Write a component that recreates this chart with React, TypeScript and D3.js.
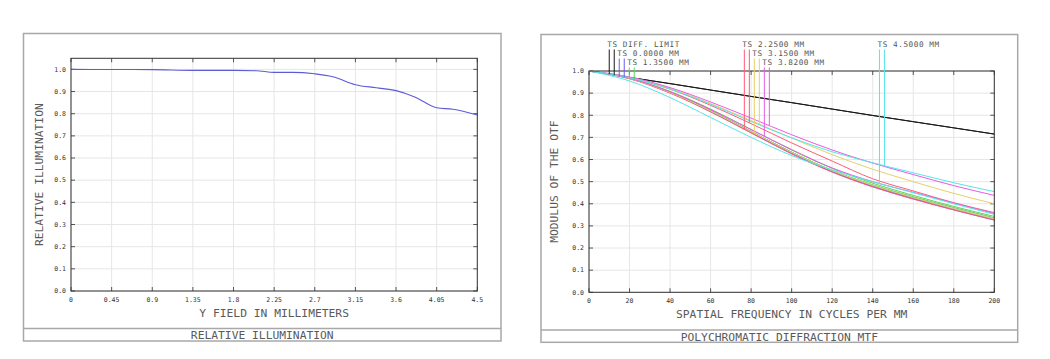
import React from 'react';
import * as d3 from 'd3';

// ---------- Relative illumination data ----------
const riFieldMm = [0, 0.45, 0.9, 1.35, 1.8, 2.05, 2.25, 2.45, 2.7, 2.9, 3.15, 3.38, 3.6, 3.8, 4.05, 4.23, 4.5];
const riValues = [1.0, 0.9995, 0.999, 0.9955, 0.9955, 0.994, 0.9865, 0.9865, 0.98, 0.967, 0.931, 0.917, 0.904, 0.877, 0.827, 0.82, 0.794];
const riXTicks = [0, 0.45, 0.9, 1.35, 1.8, 2.25, 2.7, 3.15, 3.6, 4.05, 4.5];
const riXTickLabels = ['0', '0.45', '0.9', '1.35', '1.8', '2.25', '2.7', '3.15', '3.6', '4.05', '4.5'];
const yTicks = [0, 0.1, 0.2, 0.3, 0.4, 0.5, 0.6, 0.7, 0.8, 0.9, 1.0];
const yTickLabels = ['0.0', '0.1', '0.2', '0.3', '0.4', '0.5', '0.6', '0.7', '0.8', '0.9', '1.0'];

// ---------- MTF data ----------
const mtfFreq = [0, 20, 40, 60, 80, 100, 120, 140, 160, 180, 200];
const mtfXTicks = [0, 20, 40, 60, 80, 100, 120, 140, 160, 180, 200];
const mtfXTickLabels = ['0', '20', '40', '60', '80', '100', '120', '140', '160', '180', '200'];
const diffLimit = [1, 0.971, 0.943, 0.914, 0.885, 0.857, 0.828, 0.799, 0.771, 0.743, 0.715];
const f0T = [1, 0.966, 0.902, 0.818, 0.722, 0.628, 0.545, 0.478, 0.423, 0.373, 0.327];
const f0S = [1, 0.967, 0.905, 0.822, 0.727, 0.633, 0.55, 0.482, 0.427, 0.377, 0.331];
const f1T = [1, 0.966, 0.903, 0.82, 0.726, 0.633, 0.551, 0.486, 0.432, 0.383, 0.337];
const f1S = [1, 0.968, 0.908, 0.828, 0.736, 0.643, 0.56, 0.493, 0.438, 0.388, 0.343];
const f2T = [1, 0.965, 0.9, 0.815, 0.72, 0.625, 0.543, 0.476, 0.421, 0.372, 0.326];
const f2S = [1, 0.971, 0.918, 0.845, 0.762, 0.675, 0.593, 0.513, 0.458, 0.405, 0.36];
const f3T = [1, 0.966, 0.903, 0.82, 0.726, 0.632, 0.55, 0.483, 0.428, 0.378, 0.332];
const f3S = [1, 0.972, 0.922, 0.853, 0.776, 0.697, 0.622, 0.556, 0.5, 0.447, 0.4];
const f4T = [1, 0.967, 0.906, 0.826, 0.735, 0.645, 0.562, 0.5, 0.452, 0.403, 0.356];
const f4S = [1, 0.973, 0.925, 0.86, 0.787, 0.712, 0.643, 0.584, 0.532, 0.482, 0.438];
const f5T = [1, 0.955, 0.88, 0.79, 0.7, 0.618, 0.553, 0.5, 0.45, 0.4, 0.352];
const f5S = [1, 0.97, 0.918, 0.85, 0.772, 0.698, 0.635, 0.585, 0.54, 0.495, 0.455];

const fieldLabels = ['TS DIFF. LIMIT', 'TS 0.0000 MM', 'TS 1.3500 MM', 'TS 2.2500 MM', 'TS 3.1500 MM', 'TS 3.8200 MM', 'TS 4.5000 MM'];
const fieldColors = ['#1a1a1a', '#6a5cf0', '#5cd65c', '#ff5a78', '#e8cf6a', '#e65ce6', '#55e6e6'];
const fieldT = [diffLimit, f0T, f1T, f2T, f3T, f4T, f5T];
const fieldS = [diffLimit, f0S, f1S, f2S, f3S, f4S, f5S];

const FONT = '"DejaVu Sans Mono", "Liberation Mono", monospace';

type Rect = { left: number; top: number; right: number; bottom: number };

function Frame({ box, sep, plot, xs, ys, xTicks, xLabels, yT, yL, xTitle, yTitle, yTitleX, title, children }: any) {
  const tl = 4;
  return (
    <g>
      <rect x={box.left} y={box.top} width={box.right - box.left} height={box.bottom - box.top} fill="none" stroke="#a8a8a8" strokeWidth={1.5} />
      <line x1={box.left} x2={box.right} y1={sep} y2={sep} stroke="#a8a8a8" strokeWidth={1.5} />
      {xTicks.map((t: number, i: number) => (
        <line key={'gx' + i} x1={xs(t)} x2={xs(t)} y1={plot.top} y2={plot.bottom} stroke="#e6e6e6" strokeWidth={1} />
      ))}
      {yT.map((t: number, i: number) => (
        <line key={'gy' + i} x1={plot.left} x2={plot.right} y1={ys(t)} y2={ys(t)} stroke="#e6e6e6" strokeWidth={1} />
      ))}
      {xTicks.map((t: number, i: number) => (
        <g key={'tx' + i}>
          <line x1={xs(t)} x2={xs(t)} y1={plot.bottom} y2={plot.bottom - tl} stroke="#555" />
          <line x1={xs(t)} x2={xs(t)} y1={plot.top} y2={plot.top + tl} stroke="#555" />
          <text x={xs(t)} y={plot.bottom + 11} fontSize={6.5} fontFamily={FONT} textAnchor="middle" fill="#333">{xLabels[i]}</text>
        </g>
      ))}
      {yT.map((t: number, i: number) => (
        <g key={'ty' + i}>
          <line x1={plot.left} x2={plot.left + tl} y1={ys(t)} y2={ys(t)} stroke="#555" />
          <line x1={plot.right} x2={plot.right - tl} y1={ys(t)} y2={ys(t)} stroke="#555" />
          <text x={plot.left - 5} y={ys(t) + 2.3} fontSize={6.5} fontFamily={FONT} textAnchor="end" fill="#333">{yL[i]}</text>
        </g>
      ))}
      {children}
      <rect x={plot.left} y={plot.top} width={plot.right - plot.left} height={plot.bottom - plot.top} fill="none" stroke="#333" strokeWidth={1} />
      <text x={(plot.left + plot.right) / 2} y={plot.bottom + 25.5} fontSize={11.3} fontFamily={FONT} textAnchor="middle" fill="#5a5a5a">{xTitle}</text>
      <text transform={`translate(${yTitleX},${(plot.top + plot.bottom) / 2}) rotate(-90)`} fontSize={11.3} fontFamily={FONT} textAnchor="middle" fill="#5a5a5a">{yTitle}</text>
      <text x={(box.left + box.right) / 2} y={sep + 10.5} fontSize={11.3} fontFamily={FONT} textAnchor="middle" fill="#5a5a5a">{title}</text>
    </g>
  );
}

export default function App() {
  // Left chart
  const lBox = { left: 23.5, top: 33.5, right: 501, bottom: 341 };
  const lSep = 328.5;
  const lPlot: Rect = { left: 71, top: 58.3, right: 477.3, bottom: 291 };
  const lx = d3.scaleLinear().domain([0, 4.5]).range([lPlot.left, lPlot.right]);
  const ly = d3.scaleLinear().domain([0, 1.05]).range([lPlot.bottom, lPlot.top]);
  const riLine = d3.line<number>().x((_, i) => lx(riFieldMm[i])).y((d) => ly(d)).curve(d3.curveMonotoneX);

  // Right chart
  const rBox = { left: 541, top: 34.5, right: 1017.7, bottom: 342.3 };
  const rSep = 330;
  const rPlot: Rect = { left: 589, top: 71, right: 994.3, bottom: 292.3 };
  const rx = d3.scaleLinear().domain([0, 200]).range([rPlot.left, rPlot.right]);
  const ry = d3.scaleLinear().domain([0, 1]).range([rPlot.bottom, rPlot.top]);
  const mtfLine = d3.line<number>().x((_, i) => rx(mtfFreq[i])).y((d) => ry(d)).curve(d3.curveMonotoneX);
  const interp = (arr: number[], f: number) => {
    const i = Math.min(mtfFreq.length - 2, Math.max(0, d3.bisectRight(mtfFreq, f) - 1));
    const t = (f - mtfFreq[i]) / (mtfFreq[i + 1] - mtfFreq[i]);
    return arr[i] + t * (arr[i + 1] - arr[i]);
  };

  const pw = rPlot.right - rPlot.left;
  const legend = fieldLabels.map((lab, i) => {
    const col = Math.floor(i / 3);
    const row = i % 3;
    const tx = rPlot.left + pw * 0.045 + (col * pw) / 3 + row * 10;
    const base = 46.5 + row * 9;
    return { lab, i, tx, base, top: base + 3 };
  });

  return (
    <svg width={1050} height={359} style={{ position: 'absolute', left: 0, top: 0, background: '#fff' }}>
      <rect x={0} y={0} width={1050} height={359} fill="#fff" />
      <Frame box={lBox} sep={lSep} plot={lPlot} xs={lx} ys={ly} xTicks={riXTicks} xLabels={riXTickLabels} yT={yTicks} yL={yTickLabels}
        xTitle="Y FIELD IN MILLIMETERS" yTitle="RELATIVE ILLUMINATION" yTitleX={lBox.left + 19.5} title="RELATIVE ILLUMINATION">
        <path d={riLine(riValues) || ''} fill="none" stroke="#5c5cd6" strokeWidth={1.1} />
      </Frame>
      <Frame box={rBox} sep={rSep} plot={rPlot} xs={rx} ys={ry} xTicks={mtfXTicks} xLabels={mtfXTickLabels} yT={yTicks} yL={yTickLabels}
        xTitle="SPATIAL FREQUENCY IN CYCLES PER MM" yTitle="MODULUS OF THE OTF" yTitleX={rBox.left + 17} title="POLYCHROMATIC DIFFRACTION MTF">
        {fieldLabels.map((_, i) => (
          <g key={'c' + i}>
            <path d={mtfLine(fieldT[i]) || ''} fill="none" stroke={fieldColors[i]} strokeWidth={1} />
            <path d={mtfLine(fieldS[i]) || ''} fill="none" stroke={fieldColors[i]} strokeWidth={1} />
          </g>
        ))}
      </Frame>
      {legend.map((g) => {
        const x1 = g.tx + 2;
        const x2 = g.tx + 7;
        const yT1 = ry(interp(fieldT[g.i], rx.invert(x1)));
        const yS1 = ry(interp(fieldS[g.i], rx.invert(x2)));
        return (
          <g key={'lg' + g.i}>
            <line x1={x1} x2={x1} y1={g.top} y2={yT1} stroke={fieldColors[g.i]} strokeWidth={1} />
            <line x1={x2} x2={x2} y1={g.top} y2={yS1} stroke={fieldColors[g.i]} strokeWidth={1} />
            <text x={g.tx} y={g.base} fontSize={7.7} letterSpacing={0.56} fontFamily={FONT} fill="#555">{g.lab}</text>
          </g>
        );
      })}
    </svg>
  );
}
